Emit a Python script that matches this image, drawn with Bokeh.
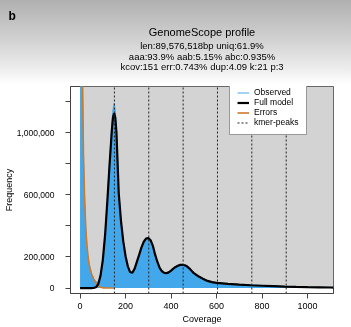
from bokeh.plotting import figure
from bokeh.models import (Title, FixedTicker, Legend, LegendItem, Range1d, InlineStyleSheet)
from bokeh.embed import file_html
from bokeh.resources import INLINE

# ---- data ----
coverage = [0, 5, 10, 15, 20, 25, 30, 35, 40, 50, 60, 70, 80, 90, 100, 110, 120, 130,
            140, 145, 150, 155, 160, 170, 180, 190, 200, 210, 220, 230, 240, 250, 260,
            270, 280, 290, 300, 310, 320, 330, 340, 350, 360, 370, 380, 390, 400, 410,
            420, 430, 440, 450, 460, 470, 480, 490, 500, 520, 540, 560, 580, 600, 650,
            700, 750, 800, 850, 900, 950, 1000, 1050, 1100, 1120]

full_model = [0, 0, 0, 0, 0, 0, 0, 0, 0, 0, 1000, 5000, 25000, 80000, 180000, 340000,
              560000, 800000, 1020000, 1100000, 1125000, 1095000, 1000000, 610000,
              430000, 300000, 205000, 140000, 103000, 98000, 125000, 170000, 215000,
              262000, 298000, 318000, 322000, 308000, 272000, 215000, 168000, 130000,
              108000, 98000, 96000, 101000, 112000, 125000, 136000, 144000, 149000,
              150000, 147000, 140000, 127000, 111000, 96000, 76000, 60000, 46000,
              38000, 33000, 27000, 22000, 18000, 15000, 12000, 9000, 7000, 5500, 4500,
              3500, 3000]

observed = [9000000, 3200000, 1450000, 850000, 570000, 380000, 270000, 200000, 150000,
            92000, 60000, 40000, 38000, 84000, 182000, 345000, 570000, 820000, 1070000,
            1150000, 1190000, 1140000, 1020000, 630000, 435000, 302000, 207000, 141000,
            104000, 99000, 126000, 171000, 216000, 263000, 299000, 319000, 323000,
            309000, 273000, 216000, 169000, 131000, 109000, 99000, 97000, 102000,
            113000, 126000, 137000, 145000, 150000, 151000, 148000, 141000, 128000,
            112000, 97000, 77000, 61000, 47000, 39000, 34000, 28000, 23000, 19000,
            16000, 13000, 10000, 8000, 6500, 5500, 4500, 4000]

error_coverage = [0, 5, 10, 15, 20, 25, 30, 35, 40, 50, 60, 70, 80, 90, 100, 110, 120,
                  130, 140, 150]
errors = [8000000, 3000000, 1400000, 860000, 580000, 390000, 280000, 205000, 152000,
          94000, 58000, 32000, 14000, 5000, 1500, 300, 0, 0, 0, 0]

kmer_peaks = [151, 302, 453, 604, 755, 906]

x_ticks = [0, 200, 400, 600, 800, 1000]
y_ticks = [0, 200000, 400000, 600000, 800000, 1000000, 1200000]
y_tick_labels = ["0", "200,000", "", "600,000", "", "1,000,000", ""]

panel_label = "b"
title_text = "GenomeScope profile"
subtitle_lines = ["len:89,576,518bp uniq:61.9%",
                  "aaa:93.9% aab:5.15% abc:0.935%",
                  "kcov:151 err:0.743% dup:4.09 k:21 p:3"]

# ---- styling ----
FONT = "Liberation Sans"
C_HIST = "#43A8EB"
C_MODEL = "#000000"
C_ERR = "#CC7A2C"
C_BG = "#D3D3D3"
GRADIENT = ("linear-gradient(to bottom, #b0b0b0 0px, #d2d2d2 40px, #eeeeee 70px, "
            "#ffffff 84px)")

x_range = Range1d(-42, 1114)
y_range = Range1d(-35000, 1297000)

p = figure(width=351, height=327, x_range=x_range, y_range=y_range,
           output_backend="svg", toolbar_location=None,
           min_border_left=67, min_border_right=18, min_border_top=86,
           min_border_bottom=34)
p.title.text = ""
p.background_fill_color = "white"
p.border_fill_color = "white"
p.stylesheets = [InlineStyleSheet(css=(
    ":host { position: relative; }\n"
    ":host::after { content: ''; position: absolute; left: 0; top: 0; "
    "width: 351px; height: 86px; background: %s; mix-blend-mode: multiply; "
    "pointer-events: none; z-index: 100; }" % GRADIENT))]
p.outline_line_color = "#444444"
p.outline_line_width = 1
p.xgrid.visible = False
p.ygrid.visible = False

# gray plotting region from (0,0)
p.quad(left=[0], right=[x_range.end], bottom=[0], top=[y_range.end],
       fill_color=C_BG, line_color=None)

# observed histogram fill
p.varea(x=coverage, y1=[0] * len(coverage), y2=observed, fill_color=C_HIST)
r_obs = p.line(coverage, observed, line_color=C_HIST, line_width=1)

r_err = p.line(error_coverage, errors, line_color=C_ERR, line_width=1.6)
r_model = p.line(coverage, full_model, line_color=C_MODEL, line_width=2.2)
r_peaks = p.segment(x0=kmer_peaks, y0=[y_range.start] * len(kmer_peaks),
                    x1=kmer_peaks, y1=[y_range.end] * len(kmer_peaks),
                    line_color="#222222", line_width=1, line_dash="2 2")

legend = Legend(items=[LegendItem(label="Observed", renderers=[r_obs]),
                       LegendItem(label="Full model", renderers=[r_model]),
                       LegendItem(label="Errors", renderers=[r_err]),
                       LegendItem(label="kmer-peaks", renderers=[r_peaks])],
                location=(159, 158))
legend.padding = 7
legend.spacing = 0
legend.margin = 0
legend.glyph_width = 12
legend.glyph_height = 9
legend.label_height = 9
legend.label_width = 45
legend.label_standoff = 5
legend.label_text_font = FONT
legend.label_text_font_size = "8.5px"
legend.label_text_color = "black"
legend.border_line_color = "#333333"
legend.border_line_width = 1
legend.background_fill_color = "white"
legend.background_fill_alpha = 1
p.add_layout(legend, "center")

# axes
for ax in (p.xaxis[0], p.yaxis[0]):
    ax.axis_line_color = "#444444"
    ax.major_tick_line_color = "#444444"
    ax.major_tick_out = 5
    ax.major_tick_in = 0
    ax.minor_tick_line_color = None
    ax.major_label_text_font = FONT
    ax.major_label_text_color = "black"
    ax.axis_label_text_font = FONT
    ax.axis_label_text_font_style = "normal"
    ax.axis_label_text_color = "black"

p.xaxis.ticker = FixedTicker(ticks=x_ticks)
p.xaxis.major_label_text_font_size = "9px"
p.xaxis.major_label_standoff = 4
p.xaxis.axis_label = "Coverage"
p.xaxis.axis_label_text_font_size = "9px"
p.xaxis.axis_label_standoff = 2

p.yaxis.ticker = FixedTicker(ticks=y_ticks)
p.yaxis.major_label_overrides = {t: l for t, l in zip(y_ticks, y_tick_labels)}
p.yaxis.major_label_text_font_size = "8.5px"
p.yaxis.major_label_standoff = 11
p.yaxis.axis_label = "Frequency"
p.yaxis.axis_label_text_font_size = "9px"
p.yaxis.axis_label_standoff = 0

# titles, closest to the plot first
p.add_layout(Title(text=" ", text_font_size="1px", standoff=12.5), "above")
sub_standoffs = [-3, -3, 0]
for s, line in zip(sub_standoffs, reversed(subtitle_lines)):
    p.add_layout(Title(text=line, align="center", text_font=FONT,
                       text_font_size="9.5px", text_font_style="normal",
                       text_color="black", standoff=s), "above")
p.add_layout(Title(text=title_text, align="center", text_font=FONT,
                   text_font_size="11px", text_font_style="normal",
                   text_color="black", standoff=0), "above")
p.add_layout(Title(text=panel_label, align="left", text_font=FONT,
                   text_font_size="12px", text_font_style="bold",
                   text_color="black", standoff=2, offset=-62), "above")

open("out.html", "w").write(file_html(p, INLINE))
